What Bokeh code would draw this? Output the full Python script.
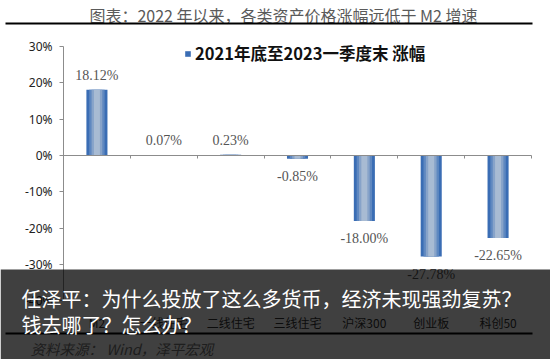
from bokeh.plotting import figure
from bokeh.models import (Range1d, Label, BoxAnnotation, FixedTicker, LinearAxis,
                          Legend, LegendItem, ColumnDataSource)
from bokeh.embed import file_html
from bokeh.resources import INLINE
from bokeh.core.properties import value

# ---- data ----
categories = ["M2", "一线住宅", "二线住宅", "三线住宅", "沪深300", "创业板", "科创50"]
changes = [18.12, 0.07, 0.23, -0.85, -18.00, -27.78, -22.65]
value_labels = ["18.12%", "0.07%", "0.23%", "-0.85%", "-18.00%", "-27.78%", "-22.65%"]
y_ticks = [30, 20, 10, 0, -10, -20, -30, -40]
y_tick_labels = ["30%", "20%", "10%", "0%", "-10%", "-20%", "-30%", "-40%"]
series_name = "2021年底至2023一季度末 涨幅"
chart_title = "图表：2022 年以来，各类资产价格涨幅远低于 M2 增速"
source_note = "资料来源： Wind，泽平宏观"
caption_lines = ["任泽平：为什么投放了这么多货币，经济未现强劲复苏？", "钱去哪了？怎么办？"]

# ---- layout constants (pixels) ----
W, H = 550, 359
PLOT_L, PLOT_R = 63, 531          # category band, canvas px
PLOT_T = 46                       # canvas px of the top tick
PX_PER_PCT = 3.635
CJK = "Noto Sans CJK SC"

n = len(categories)
px_per_cat = (PLOT_R - PLOT_L) / n
x_start = -PLOT_L / px_per_cat
x_end = n + (W - PLOT_R) / px_per_cat
y_top = max(y_ticks) + PLOT_T / PX_PER_PCT
y_bot = max(y_ticks) - (H - PLOT_T) / PX_PER_PCT

p = figure(width=W, height=H, x_range=Range1d(x_start, x_end), y_range=Range1d(y_bot, y_top),
           output_backend="svg", toolbar_location=None,
           x_axis_location=None, y_axis_location=None,
           min_border=0, min_border_left=0, min_border_right=0,
           min_border_top=0, min_border_bottom=0)
p.outline_line_color = None
p.xgrid.visible = False
p.ygrid.visible = False
p.background_fill_color = "white"
p.border_fill_color = "white"

centers = [i + 0.5 for i in range(n)]
boundaries = [i + 1 for i in range(n)]

# y axis at the left edge of the category band
yax = LinearAxis(fixed_location=0, ticker=FixedTicker(ticks=y_ticks),
                 bounds=(min(y_ticks), max(y_ticks)),
                 major_label_overrides=dict(zip(y_ticks, y_tick_labels)))
yax.axis_line_color = "#8c8c8c"
yax.major_tick_line_color = "#8c8c8c"
yax.major_tick_out = 4
yax.major_tick_in = 0
yax.minor_tick_line_color = None
yax.major_label_text_font = "Noto Sans"
yax.major_label_text_font_size = "12px"
yax.major_label_text_color = "#222222"
yax.major_label_standoff = 7
p.add_layout(yax, "left")

# horizontal axis line at 0 with category boundary ticks
zax = LinearAxis(fixed_location=0, ticker=FixedTicker(ticks=boundaries), bounds=(0, n),
                 major_label_overrides={b: "" for b in boundaries})
zax.axis_line_color = "#8c8c8c"
zax.major_tick_line_color = "#8c8c8c"
zax.major_tick_out = 3
zax.major_tick_in = 0
zax.minor_tick_line_color = None
zax.major_label_text_font_size = "1px"
p.add_layout(zax, "below")

# category labels at the low end of the value axis
xax = LinearAxis(fixed_location=min(y_ticks), ticker=FixedTicker(ticks=centers),
                 major_label_overrides=dict(zip(centers, categories)))
xax.axis_line_color = None
xax.major_tick_line_color = None
xax.minor_tick_line_color = None
xax.major_label_text_font = CJK
xax.major_label_text_font_size = "12px"
xax.major_label_text_color = "#333333"
xax.major_label_standoff = 7
p.add_layout(xax, "below")

# bars with a simple horizontal gradient
src = ColumnDataSource(dict(x=centers, v=changes, lab=value_labels,
                            base=["bottom" if v >= 0 else "top" for v in changes],
                            off=[-7 if v >= 0 else 10 for v in changes]))
r_outer = p.vbar(x="x", top="v", bottom=0, width=0.315, source=src,
                 fill_color="#3a6db4", line_color=None)
p.vbar(x="x", top="v", bottom=0, width=0.23, source=src, fill_color="#5f88c0", line_color=None)
p.vbar(x="x", top="v", bottom=0, width=0.16, source=src, fill_color="#87a3c9", line_color=None)
p.vbar(x="x", top="v", bottom=0, width=0.09, source=src, fill_color="#a8bbd3", line_color=None)

# value labels
p.text(x="x", y="v", text="lab", source=src, text_align="center", text_baseline="base",
       y_offset="off", text_font=value("Liberation Serif"), text_font_size="14px",
       text_color="#555555")

# legend
legend = Legend(items=[LegendItem(label=series_name, renderers=[r_outer])],
                location=(184, 294), orientation="horizontal",
                glyph_width=7, glyph_height=7, label_standoff=4, padding=0, margin=0,
                border_line_color=None, background_fill_alpha=0,
                label_text_font=CJK, label_text_font_style="bold",
                label_text_font_size="16.5px", label_text_color="#111111")
p.add_layout(legend)

# page furniture: title, rules, source
p.add_layout(Label(x=283, y=14, x_units="canvas", y_units="canvas", text=chart_title,
                   text_align="center", text_baseline="middle", text_font=CJK,
                   text_font_size="16px", text_color="#5a5a5a"))
p.add_layout(BoxAnnotation(left=5, right=532, top=22, bottom=24,
                           left_units="canvas", right_units="canvas",
                           top_units="canvas", bottom_units="canvas",
                           fill_color="black", fill_alpha=1, line_color=None, level="overlay"))
p.add_layout(BoxAnnotation(left=5, right=532, top=332, bottom=334,
                           left_units="canvas", right_units="canvas",
                           top_units="canvas", bottom_units="canvas",
                           fill_color="black", fill_alpha=1, line_color=None, level="overlay"))
p.add_layout(Label(x=30, y=348, x_units="canvas", y_units="canvas", text=source_note,
                   text_align="left", text_baseline="middle", text_font=CJK,
                   text_font_style="italic", text_font_size="14.5px", text_color="#777777",
                   level="overlay"))

# dark caption overlay
p.add_layout(BoxAnnotation(left=0, right=W, top=269, bottom=H,
                           left_units="canvas", right_units="canvas",
                           top_units="canvas", bottom_units="canvas",
                           fill_color="black", fill_alpha=0.75, line_color=None, level="overlay"))
for i, line in enumerate(caption_lines):
    p.add_layout(Label(x=21, y=298 + 26 * i, x_units="canvas", y_units="canvas", text=line,
                       text_align="left", text_baseline="middle", text_font=CJK,
                       text_font_size="20px", text_color="white", level="overlay"))

open("out.html", "w").write(file_html(p, INLINE))
